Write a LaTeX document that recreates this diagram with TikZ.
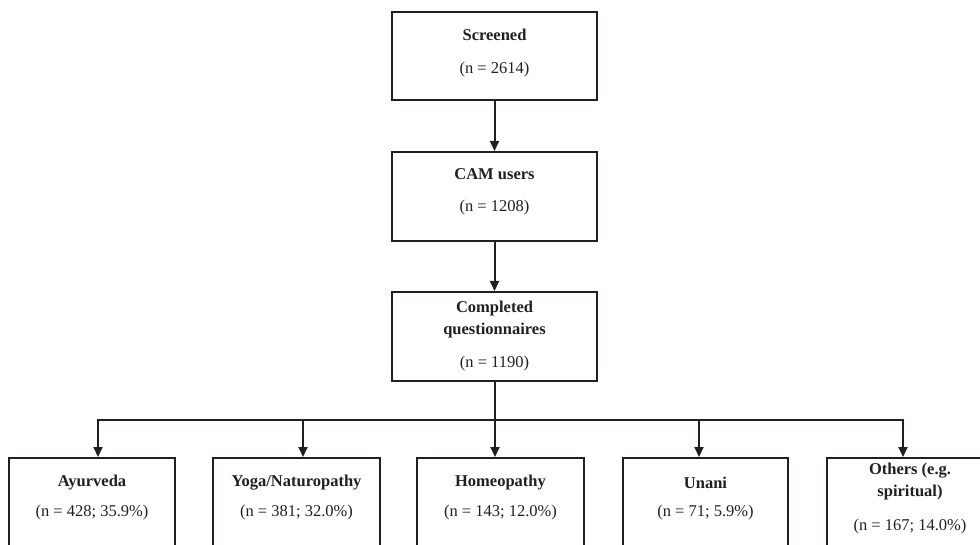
\documentclass[tikz,border=0pt]{standalone}
\usepackage{fontspec}
\setmainfont{Liberation Serif}
\usetikzlibrary{arrows.meta,calc}
\definecolor{ink}{HTML}{231F20}
\begin{document}
\begin{tikzpicture}[x=1pt,y=-1pt,
  box/.style={draw=ink,line width=2pt,rectangle,inner sep=0pt},
  lbl/.style={text=ink,font=\fontsize{16.5}{20}\selectfont,inner sep=0pt,anchor=center},
  ttl/.style={lbl,font=\fontsize{16.5}{20}\selectfont\bfseries},
  conn/.style={draw=ink,line width=2pt},
  arr/.style={conn,-{Triangle[length=10pt,width=9pt]}}]
\useasboundingbox (0,0) rectangle (980,545);
\clip (0,0) rectangle (980,545);
% top boxes
\node[box,minimum width=205pt,minimum height=88pt] (s) at (494.5,56) {};
\node[box,minimum width=205pt,minimum height=89pt] (c) at (494.5,196.5) {};
\node[box,minimum width=205pt,minimum height=89pt] (q) at (494.5,336.5) {};
\node[ttl] (s1) at (494.5,35) {Screened};
\node[lbl] (s2) at (494.5,70) {(n = 2614)};
\node[ttl] (c1) at (494.5,174) {CAM users};
\node[lbl] (c2) at (494.5,208) {(n = 1208)};
\node[ttl] (q1) at (494.5,309) {Completed};
\node[ttl] (q2) at (494.5,331) {questionnaires};
\node[lbl] (q3) at (494.5,364) {(n = 1190)};
% bottom boxes (cut by the lower edge)
\node[box,minimum width=166pt,minimum height=120pt] (a) at (92,518) {};
\node[box,minimum width=167pt,minimum height=120pt] (y) at (296.5,518) {};
\node[box,minimum width=167pt,minimum height=120pt] (h) at (500.5,518) {};
\node[box,minimum width=165pt,minimum height=120pt] (u) at (705.5,518) {};
\node[box,minimum width=166pt,minimum height=120pt] (o) at (910,518) {};
\node[ttl] (a1) at (92,482.5) {Ayurveda};
\node[lbl] (a2) at (92,513) {(n = 428; 35.9\%)};
\node[ttl] (y1) at (296.5,482.5) {Yoga/Naturopathy};
\node[lbl] (y2) at (296.5,513) {(n = 381; 32.0\%)};
\node[ttl] (h1) at (500.5,482.5) {Homeopathy};
\node[lbl] (h2) at (500.5,513) {(n = 143; 12.0\%)};
\node[ttl] (u1) at (705.5,482.5) {Unani};
\node[lbl] (u2) at (705.5,513) {(n = 71; 5.9\%)};
\node[ttl] (o1) at (910,471) {Others (e.g.};
\node[ttl] (o2) at (910,493) {spiritual)};
\node[lbl] (o3) at (910,527) {(n = 167; 14.0\%)};
% connectors
\draw[arr] (s.south) -- (c.north);
\draw[arr] (c.south) -- (q.north);
\coordinate (j) at (494.5,420);
\draw[conn] (q.south) -- (j);
\draw[arr] (j) -| ([xshift=6pt]a.north);
\draw[arr] (j) -| ([xshift=6.5pt]y.north);
\draw[arr] (j) -- ([xshift=-5.5pt]h.north |- j) -- ([xshift=-5.5pt]h.north);
\draw[arr] (j) -| ([xshift=-6.5pt]u.north);
\draw[arr] (j) -| ([xshift=-7pt]o.north);
\end{tikzpicture}
\end{document}
